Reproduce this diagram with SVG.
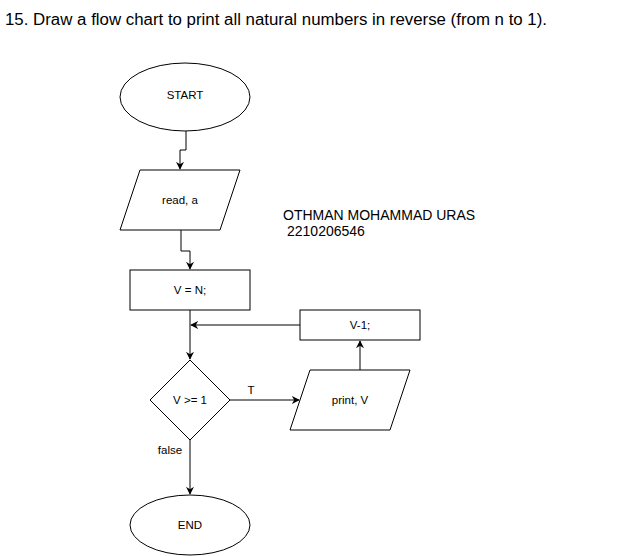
<svg xmlns="http://www.w3.org/2000/svg" width="621" height="556" viewBox="0 0 621 556">
<defs>
<style>
.s{fill:#fff;stroke:#000;stroke-width:1}
.t{font-family:"Liberation Sans",Arial,sans-serif;font-size:11.5px;fill:#000;text-anchor:middle;dominant-baseline:central}
.c{fill:none;stroke:#000;stroke-width:1}
.h{font-family:"Liberation Sans",Arial,sans-serif;fill:#000}
</style>
<marker id="a" viewBox="0 0 10 10" refX="9" refY="5" markerWidth="8" markerHeight="8" markerUnits="userSpaceOnUse" orient="auto">
<path d="M0,0 L10,5 L0,10 L3,5 Z" fill="#000"/>
</marker>
</defs>
<rect width="621" height="556" fill="#fff"/>
<text class="h" x="5" y="25" font-size="16.85">15. Draw a flow chart to print all natural numbers in reverse (from n to 1).</text>
<text class="h" x="283" y="220" font-size="14">OTHMAN MOHAMMAD URAS</text>
<text class="h" x="287" y="236" font-size="14">2210206546</text>
<g id="connectors">
<path class="c" d="M186,130 V150 H180 V169" marker-end="url(#a)"/>
<path class="c" d="M181,230 V251 H190 V269" marker-end="url(#a)"/>
<path class="c" d="M190,310 V359" marker-end="url(#a)"/>
<path class="c" d="M300,325 H191" marker-end="url(#a)"/>
<path class="c" d="M230,400 H299" marker-end="url(#a)"/>
<path class="c" d="M360,370 V341" marker-end="url(#a)"/>
<path class="c" d="M190,440 V494" marker-end="url(#a)"/>
<text class="t" x="251" y="390">T</text>
<text class="t" x="170" y="450">false</text>
</g>
<g id="start"><ellipse class="s" cx="185" cy="97" rx="65" ry="34"/><text class="t" x="185" y="95">START</text></g>
<g id="read"><polygon class="s" points="140,170 240,170 220,230 120,230"/><text class="t" x="180" y="200">read, a</text></g>
<g id="assign"><rect class="s" x="130" y="270" width="120" height="40"/><text class="t" x="190" y="290">V = N;</text></g>
<g id="decision"><polygon class="s" points="190,360 230,400 190,440 150,400"/><text class="t" x="190" y="400">V &gt;= 1</text></g>
<g id="print"><polygon class="s" points="310,370 410,370 390,430 290,430"/><text class="t" x="350" y="400">print, V</text></g>
<g id="dec"><rect class="s" x="300" y="310" width="120" height="30"/><text class="t" x="360" y="325">V-1;</text></g>
<g id="end"><ellipse class="s" cx="190" cy="525" rx="60" ry="30"/><text class="t" x="190" y="525">END</text></g>
</svg>
